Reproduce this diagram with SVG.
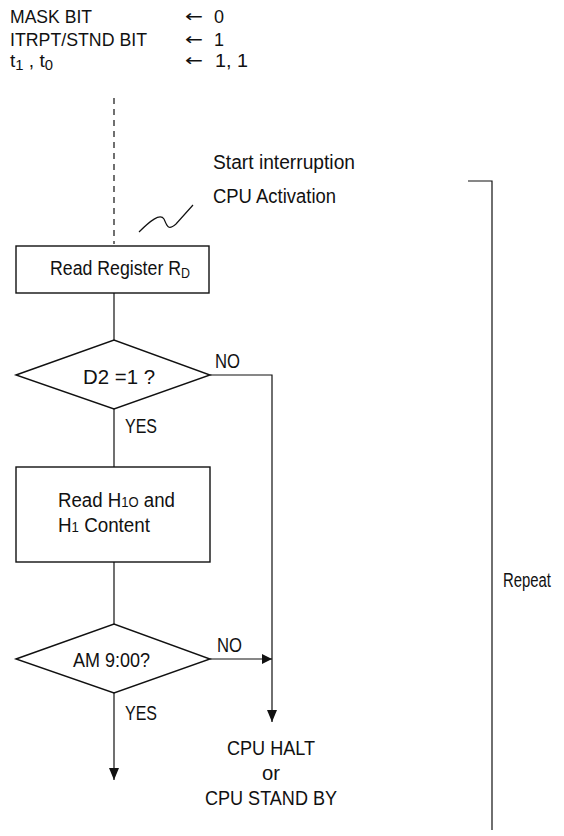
<svg xmlns="http://www.w3.org/2000/svg" width="564" height="836" viewBox="0 0 564 836">
<style>
text{font-family:"Liberation Sans",Arial,sans-serif;font-size:20px;fill:#111}
.h{font-size:18px}
.ln{stroke:#111;stroke-width:1.2;fill:none}
.sh{stroke:#111;stroke-width:1.4;fill:#fff}
.c{text-anchor:middle}
.sub{font-size:14px}
.ar{font-family:"DejaVu Sans",sans-serif;font-size:17px}
</style>
<defs>
<marker id="ah" markerWidth="10" markerHeight="12" refX="10" refY="6" orient="auto" markerUnits="userSpaceOnUse">
<path d="M0,1 L10,6 L0,11 Z" fill="#111"/>
</marker>
<marker id="av" markerWidth="12" markerHeight="12" refX="12" refY="6" orient="auto" markerUnits="userSpaceOnUse">
<path d="M0,1 L12,6 L0,11 Z" fill="#111"/>
</marker>
</defs>
<rect width="564" height="836" fill="#fff"/>
<g id="header">
<text class="h" x="10" y="23" textLength="82" lengthAdjust="spacingAndGlyphs">MASK BIT</text>
<text class="h" x="10" y="46" textLength="137" lengthAdjust="spacingAndGlyphs">ITRPT/STND BIT</text>
<text class="h" x="10" y="67" textLength="43" lengthAdjust="spacingAndGlyphs">t<tspan class="sub" dy="3">1</tspan><tspan dy="-3"> , t</tspan><tspan class="sub" dy="3">0</tspan></text>
<text x="185" y="22" class="ar" textLength="18" lengthAdjust="spacingAndGlyphs">←</text><text class="h" x="214" y="23">0</text>
<text x="185" y="45" class="ar" textLength="18" lengthAdjust="spacingAndGlyphs">←</text><text class="h" x="214" y="46">1</text>
<text x="185" y="66" class="ar" textLength="18" lengthAdjust="spacingAndGlyphs">←</text><text class="h" x="215" y="67" textLength="33" lengthAdjust="spacingAndGlyphs">1, 1</text>
</g>
<g id="start">
<text x="213" y="169" textLength="142" lengthAdjust="spacingAndGlyphs">Start interruption</text>
<text x="213" y="203" textLength="123" lengthAdjust="spacingAndGlyphs">CPU Activation</text>
<path class="ln" d="M139,232 C150,221 160,213 164,219 C167,226 168,231 176,224 L193,205"/>
</g>
<g id="repeat">
<path class="ln" d="M468,181 H492 V830"/>
<text x="503" y="587" font-size="17" textLength="48" lengthAdjust="spacingAndGlyphs">Repeat</text>
</g>
<g id="connectors">
<line class="ln" x1="114" y1="98" x2="114" y2="244" stroke-dasharray="6,5"/>
<line class="ln" x1="114" y1="293" x2="114" y2="340"/>
<line class="ln" x1="114" y1="409" x2="114" y2="467"/>
<line class="ln" x1="114" y1="562" x2="114" y2="624"/>
<path class="ln" d="M210,375 H272 V722" marker-end="url(#av)"/>
<line class="ln" x1="210" y1="659" x2="272" y2="659" marker-end="url(#ah)"/>
<line class="ln" x1="114" y1="693" x2="114" y2="780" marker-end="url(#av)"/>
<text x="215" y="368" textLength="25" lengthAdjust="spacingAndGlyphs">NO</text>
<text x="125" y="433" textLength="32" lengthAdjust="spacingAndGlyphs">YES</text>
<text x="217" y="652" textLength="25" lengthAdjust="spacingAndGlyphs">NO</text>
<text x="125" y="720" textLength="32" lengthAdjust="spacingAndGlyphs">YES</text>
</g>
<g id="readRD">
<rect class="sh" x="16" y="246" width="193" height="47"/>
<text x="50" y="275" font-size="19" textLength="140" lengthAdjust="spacingAndGlyphs">Read Register R<tspan font-size="14" dy="3">D</tspan></text>
</g>
<g id="d2">
<polygon class="sh" points="16,375 114,340 210,375 114,409"/>
<text x="83" y="384" textLength="72" lengthAdjust="spacingAndGlyphs">D2 =1  ?</text>
</g>
<g id="readH">
<rect class="sh" x="16" y="467" width="194" height="95"/>
<text x="58" y="507" font-size="19" textLength="117" lengthAdjust="spacingAndGlyphs">Read H<tspan class="sub">1O</tspan> and</text>
<text x="58" y="532" font-size="19" textLength="92" lengthAdjust="spacingAndGlyphs">H<tspan class="sub">1</tspan> Content</text>
</g>
<g id="am9">
<polygon class="sh" points="16,659 114,624 210,659 114,693"/>
<text x="73" y="667" textLength="77" lengthAdjust="spacingAndGlyphs">AM 9:00?</text>
</g>
<g id="halt">
<text x="271" y="755" class="c" textLength="88" lengthAdjust="spacingAndGlyphs">CPU HALT</text>
<text x="271" y="780" class="c" textLength="18" lengthAdjust="spacingAndGlyphs">or</text>
<text x="271" y="805" class="c" textLength="132" lengthAdjust="spacingAndGlyphs">CPU STAND BY</text>
</g>
</svg>
